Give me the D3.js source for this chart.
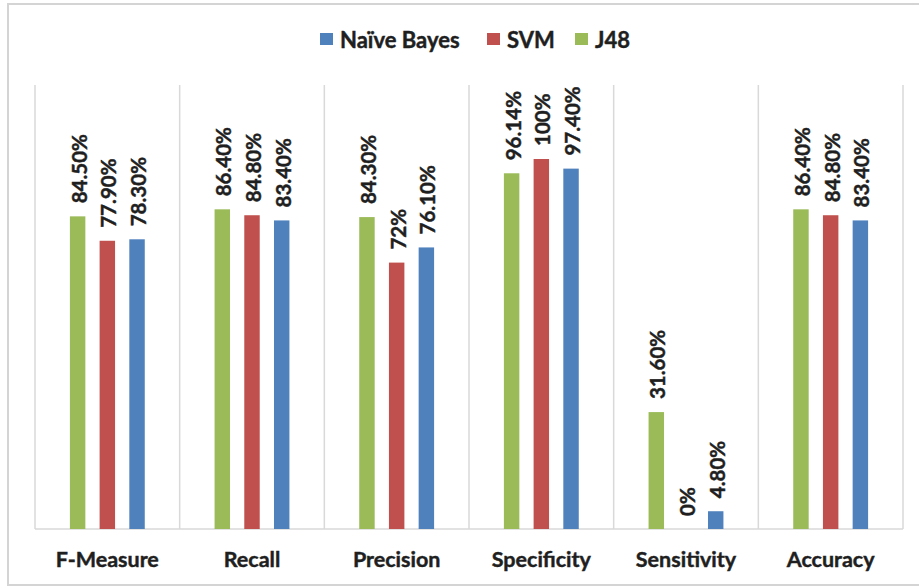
<!DOCTYPE html>
<html><head><meta charset="utf-8">
<script src="https://cdn.jsdelivr.net/npm/d3@7"></script>
<style>body{margin:0;background:#fff}svg{display:block}text{font-family:Lato,"Liberation Sans",sans-serif;font-weight:bold;fill:#1f1f1f;stroke:#1f1f1f;stroke-width:0.45px}</style>
</head><body>
<svg id="c" width="919" height="587"></svg>
<script>
const categories = ["F-Measure","Recall","Precision","Specificity","Sensitivity","Accuracy"];
const seriesNames = ["J48","SVM","Naïve Bayes"];
const j48 = [84.5, 86.4, 84.3, 96.14, 31.6, 86.4];
const svm = [77.9, 84.8, 72, 100, 0, 84.8];
const naiveBayes = [78.3, 83.4, 76.1, 97.4, 4.8, 83.4];
const j48Labels = ["84.50%","86.40%","84.30%","96.14%","31.60%","86.40%"];
const svmLabels = ["77.90%","84.80%","72%","100%","0%","84.80%"];
const nbLabels = ["78.30%","83.40%","76.10%","97.40%","4.80%","83.40%"];
const legendOrder = ["Naïve Bayes","SVM","J48"];
const yMax = 120;

(function(){
const colors = {"J48":"#9BBB59","SVM":"#C0504D","Naïve Bayes":"#4F81BD"};
const series = [
  {name:"J48", values:j48, labels:j48Labels},
  {name:"SVM", values:svm, labels:svmLabels},
  {name:"Naïve Bayes", values:naiveBayes, labels:nbLabels}
];

const svg = d3.select("#c");
svg.append("rect").attr("x",8).attr("y",4).attr("width",930).attr("height",581)
  .attr("fill","none").attr("stroke","#D4D4D4").attr("stroke-width",2);

const pL=35, pR=903, pT=85, pB=529;
const x = d3.scaleBand().domain(categories).range([pL,pR]).padding(0);
const sub = d3.scaleBand().domain(seriesNames).range([0,x.bandwidth()]).paddingInner(0.48).paddingOuter(1.175);
const y = d3.scaleLinear().domain([0,yMax]).range([pB,pT]);

const gl = categories.map(c=>x(c)).concat([pR]);
svg.append("g").selectAll("line").data(gl).join("line")
  .attr("x1",d=>d).attr("x2",d=>d).attr("y1",pT).attr("y2",pB)
  .attr("stroke","#D9D9D9").attr("stroke-width",1.5);
svg.append("line").attr("x1",pL).attr("x2",pR).attr("y1",pB).attr("y2",pB)
  .attr("stroke","#D9D9D9").attr("stroke-width",1.5);

const g = svg.append("g");
series.forEach(s=>{
  const bw = sub.bandwidth();
  g.append("g").selectAll("rect").data(categories).join("rect")
    .attr("x",(c)=>x(c)+sub(s.name))
    .attr("width",bw)
    .attr("y",(c,i)=>y(s.values[i]))
    .attr("height",(c,i)=>y(0)-y(s.values[i]))
    .attr("fill",colors[s.name]);
  g.append("g").selectAll("text").data(categories).join("text")
    .attr("transform",(c,i)=>`translate(${x(c)+sub(s.name)+bw/2+1},${y(s.values[i])-13}) rotate(-90)`)
    .attr("dominant-baseline","central")
    .attr("text-anchor","start")
    .style("font-size","20.5px")
    .text((c,i)=>s.labels[i]);
});

svg.append("g").selectAll("text").data(categories).join("text")
  .attr("x",c=>x(c)+x.bandwidth()/2).attr("y",567)
  .attr("text-anchor","middle").style("font-size","21.5px").text(c=>c);

const legendX = {"Naïve Bayes":320,"SVM":487,"J48":575};
const lg = svg.append("g");
legendOrder.forEach(n=>{
  lg.append("rect").attr("x",legendX[n]).attr("y",33).attr("width",13).attr("height",12).attr("fill",colors[n]);
  lg.append("text").attr("x",legendX[n]+20).attr("y",39).attr("dominant-baseline","central")
    .style("font-size","22px").text(n);
});
})();
</script>
</body></html>
